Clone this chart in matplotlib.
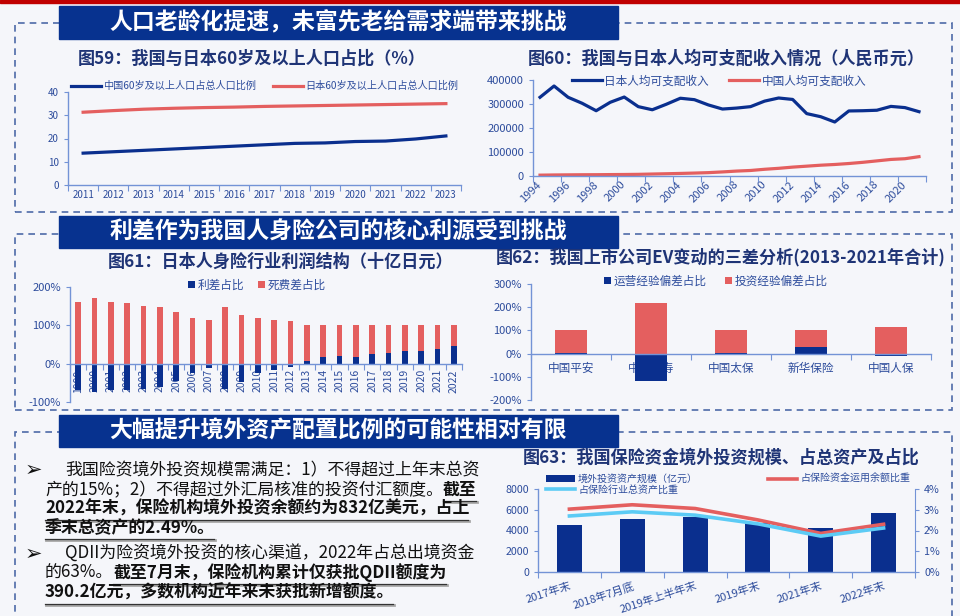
import matplotlib
matplotlib.use("Agg")

import matplotlib.pyplot as plt
from matplotlib.patches import Rectangle
from matplotlib.lines import Line2D
import numpy as np

plt.rcParams['font.family'] = ['Noto Sans CJK SC', 'DejaVu Sans']
plt.rcParams['axes.unicode_minus'] = False

# ------------------------------------------------------------
# DATA
# ------------------------------------------------------------
# 图59
pop_years = [str(y) for y in range(2011, 2024)]
china_60 = [13.7, 14.3, 14.9, 15.5, 16.1, 16.7, 17.3, 17.9, 18.1, 18.7, 18.9, 19.8, 21.1]
japan_60 = [31.3, 32.0, 32.6, 33.0, 33.3, 33.5, 33.8, 34.0, 34.2, 34.4, 34.6, 34.8, 35.0]

# 图60
inc_years = list(range(1994, 2022))
japan_inc = [328000, 375000, 328000, 303000, 272000, 307000, 329000, 289000, 276000, 299000,
             324000, 318000, 296000, 279000, 283000, 289000, 312000, 325000, 319000, 260000,
             247000, 225000, 271000, 272000, 274000, 290000, 285000, 268000]
china_inc = [3500, 4300, 4800, 5200, 5400, 5900, 6300, 6900, 8200, 9400,
             10700, 12200, 14000, 17000, 20500, 23000, 28000, 32000, 37000, 41000,
             45000, 48000, 52000, 57000, 63000, 69000, 72000, 80500]

# 图61
lp_years = [str(y) for y in range(1999, 2023)]
spread = [-68, -75, -68, -70, -66, -62, -45, -25, -12, -65, -48, -25, -16, -9,
          7, 18, 20, 18, 26, 28, 32, 34, 38, 45]
mortality = [162, 172, 160, 158, 151, 147, 135, 120, 113, 149, 128, 120, 115, 110,
             93, 82, 80, 82, 74, 72, 68, 66, 62, 55]

# 图62
ev_companies = ['中国平安', '中国人寿', '中国太保', '新华保险', '中国人保']
ev_operating = [2, -118, 4, 28, -11]
ev_investment = [100, 219, 97, 73, 115]

# 图63
oi_periods = ['2017年末', '2018年7月底', '2019年上半年末', '2019年末', '2021年末', '2022年末']
oi_scale = [4500, 5100, 5340, 4700, 4270, 5730]
oi_share_fund = [3.03, 3.24, 3.06, 2.51, 1.86, 2.30]
oi_share_asset = [2.70, 2.90, 2.74, 2.32, 1.73, 2.12]

banners = ['人口老龄化提速，未富先老给需求端带来挑战',
           '利差作为我国人身险公司的核心利源受到挑战',
           '大幅提升境外资产配置比例的可能性相对有限']

# body text: (x, y, [(text, emphasised)])
note_lines = [
    (65, 470, [('我国险资境外投资规模需满足：1）不得超过上年末总资', False)]),
    (45, 490, [('产的15%；2）不得超过外汇局核准的投资付汇额度。', False), ('截至', True)]),
    (45, 509, [('2022年末，保险机构境外投资余额约为832亿美元，占上', True)]),
    (45, 528, [('季末总资产的2.49%。', True)]),
    (65, 554, [('QDII为险资境外投资的核心渠道，2022年占总出境资金', False)]),
    (45, 573, [('的63%。', False), ('截至7月末，保险机构累计仅获批QDII额度为', True)]),
    (45, 593, [('390.2亿元，多数机构近年来未获批新增额度。', True)]),
]

# ------------------------------------------------------------
# STYLE
# ------------------------------------------------------------
W, H = 960, 616
BG = '#f5f6fa'
BANNER = '#07328f'
BLUE = '#0a2f8e'
RED = '#e45f5f'
CYAN = '#5ccbf5'
AXC = '#7393d6'
TXT = '#2d4c9c'
TITLE = '#1f3476'
DASH = '#4d6aa8'


def box(x0, y0, x1, y1):
    return [x0 / W, 1 - y1 / H, (x1 - x0) / W, (y1 - y0) / H]


def fx(x):
    return x / W


def fy(y):
    return 1 - y / H


def style_ax(ax, fs=7.5):
    ax.set_facecolor('none')
    for s in ['top', 'right']:
        ax.spines[s].set_visible(False)
    for s in ['left', 'bottom']:
        ax.spines[s].set_color(AXC)
        ax.spines[s].set_linewidth(1.0)
    ax.tick_params(colors=AXC, labelcolor=TXT, length=3, width=0.8, labelsize=fs)


def cat_ticks(ax, n, step=1):
    ax.set_xticks(np.arange(0, n + 1, step) - 0.5, minor=True)
    ax.tick_params(axis='x', which='major', length=0)
    ax.tick_params(axis='x', which='minor', length=4, color=AXC, width=0.8)


fig = plt.figure(figsize=(9.6, 6.16), dpi=100, facecolor=BG)

# ------------------------------------------------------------
# SLIDE FRAME
# ------------------------------------------------------------
fig.patches.append(Rectangle((0, fy(3)), 1, 3 / H, transform=fig.transFigure,
                             color='#c00000', zorder=0))
for (y0, y1) in [(23, 212), (234, 410), (432, 640)]:
    fig.patches.append(Rectangle((fx(15), fy(y1)), fx(952) - fx(15), (y1 - y0) / H,
                                 transform=fig.transFigure, fill=False, edgecolor=DASH,
                                 linewidth=1.2, linestyle=(0, (4, 3)), zorder=0))
for (y0, y1), label in zip([(6, 39), (216, 248), (415, 447)], banners):
    fig.patches.append(Rectangle((fx(59), fy(y1)), fx(618) - fx(59), (y1 - y0) / H,
                                 transform=fig.transFigure, color=BANNER, zorder=1))
    fig.text(fx(338), fy((y0 + y1) / 2), label, color='white', fontsize=16.5,
             fontweight='bold', ha='center', va='center')

# ------------------------------------------------------------
# 图59
# ------------------------------------------------------------
fig.text(fx(252), fy(59), '图59：我国与日本60岁及以上人口占比（%）', color=TITLE,
         fontsize=12.3, fontweight='bold', ha='center', va='center')
ax1 = fig.add_axes(box(68, 92, 461, 185))
style_ax(ax1, 7)
x1 = np.arange(len(pop_years))
ax1.plot(x1, china_60, color=BLUE, lw=2.3, label='中国60岁及以上人口占总人口比例')
ax1.plot(x1, japan_60, color=RED, lw=2.3, label='日本60岁及以上人口占总人口比例')
ax1.set_xlim(-0.5, len(x1) - 0.5)
ax1.set_ylim(0, 40)
ax1.set_yticks(range(0, 41, 10))
ax1.set_xticks(x1, pop_years)
cat_ticks(ax1, len(x1))
ax1.legend(loc='center left', bbox_to_anchor=(fx(66), fy(86)), bbox_transform=fig.transFigure,
           ncol=2, frameon=False, fontsize=7.3, handlelength=3.0, handletextpad=0.2,
           columnspacing=1.6, borderpad=0, labelcolor=TXT)

# ------------------------------------------------------------
# 图60
# ------------------------------------------------------------
fig.text(fx(726), fy(59), '图60：我国与日本人均可支配收入情况（人民币元）', color=TITLE,
         fontsize=12.3, fontweight='bold', ha='center', va='center')
ax2 = fig.add_axes(box(533, 80, 926, 176))
style_ax(ax2, 8)
x2 = np.arange(len(inc_years))
ax2.plot(x2, japan_inc, color=BLUE, lw=2.3, label='日本人均可支配收入')
ax2.plot(x2, china_inc, color=RED, lw=2.3, label='中国人均可支配收入')
ax2.set_xlim(-0.5, len(x2) - 0.5)
ax2.set_ylim(0, 400000)
yt2 = list(range(0, 400001, 100000))
ax2.set_yticks(yt2, [str(v) for v in yt2])
ax2.set_xticks(x2[::2], [str(y) for y in inc_years[::2]], rotation=45, ha='right',
               va='center', rotation_mode='anchor')
cat_ticks(ax2, len(x2), 2)
ax2.tick_params(axis='x', pad=5)
ax2.legend(loc='center left', bbox_to_anchor=(fx(566), fy(81)), bbox_transform=fig.transFigure,
           ncol=2, frameon=False, fontsize=8.4, handlelength=2.6, handletextpad=0.2,
           columnspacing=1.7, borderpad=0, labelcolor=TXT)

# ------------------------------------------------------------
# 图61
# ------------------------------------------------------------
fig.text(fx(281), fy(262), '图61：日本人身险行业利润结构（十亿日元）', color=TITLE,
         fontsize=12.3, fontweight='bold', ha='center', va='center')
ax3 = fig.add_axes(box(70, 287, 462, 402))
style_ax(ax3, 8)
x3 = np.arange(len(lp_years))
sp = np.array(spread)
ax3.bar(x3, sp, width=0.36, color=BLUE, label='利差占比')
ax3.bar(x3, mortality, width=0.36, bottom=np.where(sp > 0, sp, 0), color=RED, label='死费差占比')
ax3.spines['bottom'].set_position(('data', 0))
ax3.set_xlim(-0.5, len(x3) - 0.5)
ax3.set_ylim(-100, 200)
ax3.set_yticks([-100, 0, 100, 200], ['-100%', '0%', '100%', '200%'])
ax3.set_xticks(x3, lp_years, rotation=90, fontsize=7.5)
cat_ticks(ax3, len(x3))
ax3.tick_params(axis='x', pad=4)
ax3.set_axisbelow(True)
ax3.legend(loc='center', bbox_to_anchor=(fx(257), fy(285)), bbox_transform=fig.transFigure,
           ncol=2, frameon=False, fontsize=8.4, handlelength=0.6, handleheight=0.6,
           handletextpad=0.2, columnspacing=1.2, borderpad=0, labelcolor=TXT)

# ------------------------------------------------------------
# 图62
# ------------------------------------------------------------
fig.text(fx(721), fy(257), '图62：我国上市公司EV变动的三差分析(2013-2021年合计)', color=TITLE,
         fontsize=12.3, fontweight='bold', ha='center', va='center')
ax4 = fig.add_axes(box(531, 284, 931, 400))
style_ax(ax4, 8)
x4 = np.arange(len(ev_companies))
op = np.array(ev_operating)
ax4.bar(x4, op, width=0.4, color=BLUE, label='运营经验偏差占比')
ax4.bar(x4, ev_investment, width=0.4, bottom=np.where(op > 0, op, 0), color=RED,
        label='投资经验偏差占比')
ax4.spines['bottom'].set_position(('data', 0))
ax4.set_xlim(-0.5, len(x4) - 0.5)
ax4.set_ylim(-200, 300)
ax4.set_yticks(range(-200, 301, 100), [f'{v}%' for v in range(-200, 301, 100)])
ax4.set_xticks(x4, ev_companies, fontsize=8.4)
cat_ticks(ax4, len(x4))
ax4.tick_params(axis='x', pad=6)
ax4.set_axisbelow(True)
ax4.legend(loc='center', bbox_to_anchor=(fx(716), fy(281)), bbox_transform=fig.transFigure,
           ncol=2, frameon=False, fontsize=8.4, handlelength=0.6, handleheight=0.6,
           handletextpad=0.2, columnspacing=1.6, borderpad=0, labelcolor=TXT)

# ------------------------------------------------------------
# 图63
# ------------------------------------------------------------
fig.text(fx(721), fy(458), '图63：我国保险资金境外投资规模、占总资产及占比', color=TITLE,
         fontsize=12.3, fontweight='bold', ha='center', va='center')
ax5 = fig.add_axes(box(538, 489, 915, 572))
style_ax(ax5, 7.7)
x5 = np.arange(len(oi_periods))
bars5 = ax5.bar(x5, oi_scale, width=0.4, color=BLUE, label='境外投资资产规模（亿元）')
ax5.set_xlim(-0.5, len(x5) - 0.5)
ax5.set_ylim(0, 8000)
ax5.set_yticks(range(0, 8001, 2000))
ax5.set_xticks(x5, oi_periods, rotation=18, ha='right', va='top', rotation_mode='anchor',
               fontsize=8)
cat_ticks(ax5, len(x5))
ax5.tick_params(axis='x', pad=6)
ax5b = ax5.twinx()
ax5b.set_facecolor('none')
for s in ['top', 'left', 'bottom']:
    ax5b.spines[s].set_visible(False)
ax5b.spines['right'].set_color(AXC)
ln_fund, = ax5b.plot(x5, oi_share_fund, color=RED, lw=2.6, label='占保险资金运用余额比重')
ln_asset, = ax5b.plot(x5, oi_share_asset, color=CYAN, lw=2.6, label='占保险行业总资产比重')
ax5b.set_ylim(0, 4)
ax5b.set_yticks(range(0, 5), [f'{v}%' for v in range(0, 5)])
ax5b.tick_params(colors=AXC, labelcolor=TXT, length=3, width=0.8, labelsize=7.7)
ax5b.legend([bars5, ln_asset, ln_fund],
            ['境外投资资产规模（亿元）', '占保险行业总资产比重', '占保险资金运用余额比重'],
            loc='upper left', bbox_to_anchor=(fx(541), fy(469)), bbox_transform=fig.transFigure,
            ncol=2, frameon=False, fontsize=7.2, handlelength=2.9, handleheight=0.6,
            handletextpad=0.3, columnspacing=7.0, labelspacing=0.05, borderpad=0,
            labelcolor=TXT)

# ------------------------------------------------------------
# BODY TEXT
# ------------------------------------------------------------
for by in [470, 554]:
    fig.text(fx(25), fy(by), '➢', family=['DejaVu Sans'], fontsize=15, color='#111111',
             ha='left', va='center')

renderer = fig.canvas.get_renderer()
for (lx, ly, segments) in note_lines:
    cur = lx
    for text, emph in segments:
        t = fig.text(fx(cur), fy(ly), text, fontsize=12.2, color='#111111',
                     fontweight='bold' if emph else 'normal', ha='left', va='center')
        bb = t.get_window_extent(renderer=renderer)
        if emph:
            # shadowed underline under the emphasised part
            fig.lines.append(Line2D([fx(cur + 1), fx(bb.x1)], [fy(ly + 12), fy(ly + 12)],
                                    transform=fig.transFigure, color='#a8a8a8', lw=2.0))
            fig.lines.append(Line2D([fx(cur), fx(bb.x1 - 1)], [fy(ly + 11), fy(ly + 11)],
                                    transform=fig.transFigure, color='#333333', lw=0.9))
        cur = bb.x1

fig.savefig('out.png', dpi=100, facecolor=BG)
